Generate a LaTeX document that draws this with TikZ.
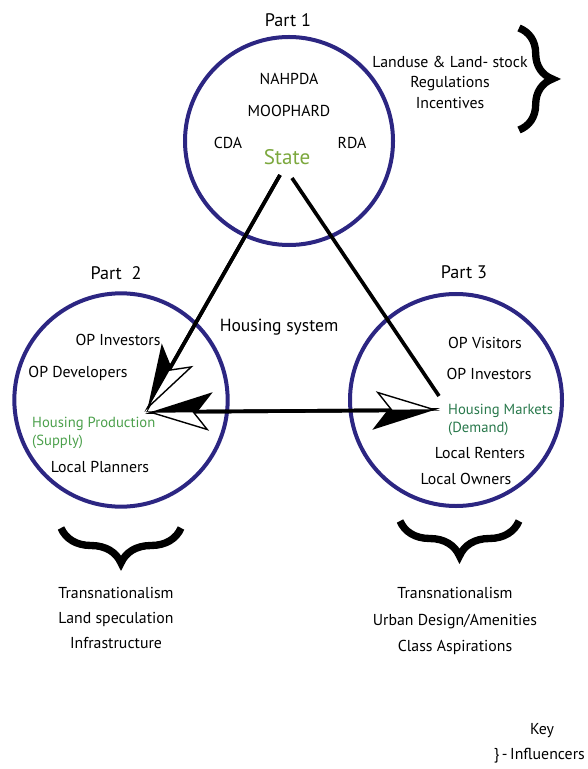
\documentclass[tikz,border=0pt]{standalone}
\usepackage{fontspec}
\setmainfont{PT Sans}
\usetikzlibrary{arrows.meta,decorations.pathreplacing}

\definecolor{ringblue}{RGB}{44,38,130}
\definecolor{stategreen}{RGB}{124,168,62}
\definecolor{supplygreen}{RGB}{76,160,76}
\definecolor{demandgreen}{RGB}{40,120,75}

\tikzset{
  ring/.style={circle, draw=ringblue, line width=0.12cm, inner sep=0pt},
  txt/.style={font=\fontsize{13.5}{16}\selectfont, inner sep=0pt, text=black},
  greentxt/.style={txt, anchor=west, align=left, font=\fontsize{12.5}{15.5}\selectfont},
  parttxt/.style={font=\fontsize{15.5}{18}\selectfont, inner sep=0pt, text=black},
  linkline/.style={line width=0.11cm},
  blackhalf/.style={linkline, -{Stealth[right, length=1.85cm, width=1.15cm, inset=0.45cm]}},
  whitehalf/.style={linkline, -{Stealth[left, open, fill=white, line width=1.2pt, length=1.85cm, width=1.15cm, inset=0.45cm]}},
  bothblack/.style={linkline, {Stealth[right, length=1.85cm, width=1.15cm, inset=0.45cm]}-{Stealth[right, length=1.85cm, width=1.15cm, inset=0.45cm]}},
  bothwhite/.style={linkline, {Stealth[left, open, fill=white, line width=1.2pt, length=1.85cm, width=1.15cm, inset=0.45cm]}-{Stealth[left, open, fill=white, line width=1.2pt, length=1.85cm, width=1.15cm, inset=0.45cm]}},
  bracket/.style={decorate, decoration={brace, amplitude=#1}, line width=0.22cm},
}

\begin{document}
\begin{tikzpicture}[x=0.03cm, y=-0.03cm]
  \useasboundingbox (0,0) rectangle (587,769);

  % the three parts
  \node[ring, minimum size=6.24cm] (state) at (289,141) {};
  \node[ring, minimum size=6.4cm] (supply) at (121,400) {};
  \node[ring, minimum size=6.36cm] (demand) at (456,400) {};

  \node[parttxt] (part1) at (288,20) {Part 1};
  \node[parttxt] (part2) at (116,273) {Part\ \ 2};
  \node[parttxt] (part3) at (464,272) {Part 3};

  % part 1
  \node[txt] (nahpda) at (289,79) {NAHPDA};
  \node[txt] (moophard) at (289,111) {MOOPHARD};
  \node[txt] (cda) at (228,143) {CDA};
  \node[txt] (rda) at (352,143) {RDA};
  \node[txt, font=\fontsize{18}{20}\selectfont, text=stategreen] (statetxt) at (287,157) {State};
  \node[txt, align=center, font=\fontsize{13.5}{17.5}\selectfont] (rules) at (450,82)
    {Landuse \& Land- stock\\Regulations\\Incentives};

  % part 2
  \node[txt] (opinv2) at (118,340) {OP Investors};
  \node[txt] (opdev) at (78,373) {OP Developers};
  \node[greentxt, text=supplygreen] (prodtxt) at (32,433)
    {Housing Production\\(Supply)};
  \node[txt] (planners) at (100,467) {Local Planners};

  % part 3
  \node[txt] (opvis) at (485,343) {OP Visitors};
  \node[txt] (opinv3) at (489,374) {OP Investors};
  \node[greentxt, text=demandgreen] (mkttxt) at (448,420)
    {Housing Markets\\(Demand)};
  \node[txt] (renters) at (480,453) {Local Renters};
  \node[txt] (owners) at (466,479) {Local Owners};

  \node[parttxt, font=\fontsize{15}{17}\selectfont] (system) at (279,327) {Housing system};

  % influencers
  \node[txt, align=center, font=\fontsize{13.5}{21}\selectfont] (infl2) at (116,618)
    {Transnationalism\\Land speculation\\Infrastructure};
  \node[txt, align=center, font=\fontsize{13.5}{23}\selectfont] (infl3) at (455,621)
    {Transnationalism\\Urban Design/Amenities\\Class Aspirations};

  \node[txt] (key) at (542,731) {Key};
  \node[txt, anchor=east] (keyline) at (585,756) {\}\,-\,Influencers};

  % link ends
  \coordinate (st-l) at (280,175);
  \coordinate (st-r) at (292,178);
  \coordinate (prod) at (145,412);
  \coordinate (mkt) at (440,410);
  \coordinate (mkt-top) at (439,396);

  \draw[blackhalf] (st-l) -- (prod);
  \draw[whitehalf] (st-l) -- (prod);
  \draw[bothblack] (prod) -- (mkt);
  \draw[bothwhite] (prod) -- (mkt);
  \draw[linkline] (st-r) -- (mkt-top);

  % braces
  \coordinate (b1-a) at (519,28);
  \coordinate (b1-b) at (519,130);
  \coordinate (b2-a) at (181,528);
  \coordinate (b2-b) at (61,528);
  \coordinate (b3-a) at (519,521);
  \coordinate (b3-b) at (400,521);
  \draw[bracket=1.0cm] (b1-a) -- (b1-b);
  \draw[bracket=1.05cm] (b2-a) -- (b2-b);
  \draw[bracket=1.05cm] (b3-a) -- (b3-b);
\end{tikzpicture}
\end{document}
